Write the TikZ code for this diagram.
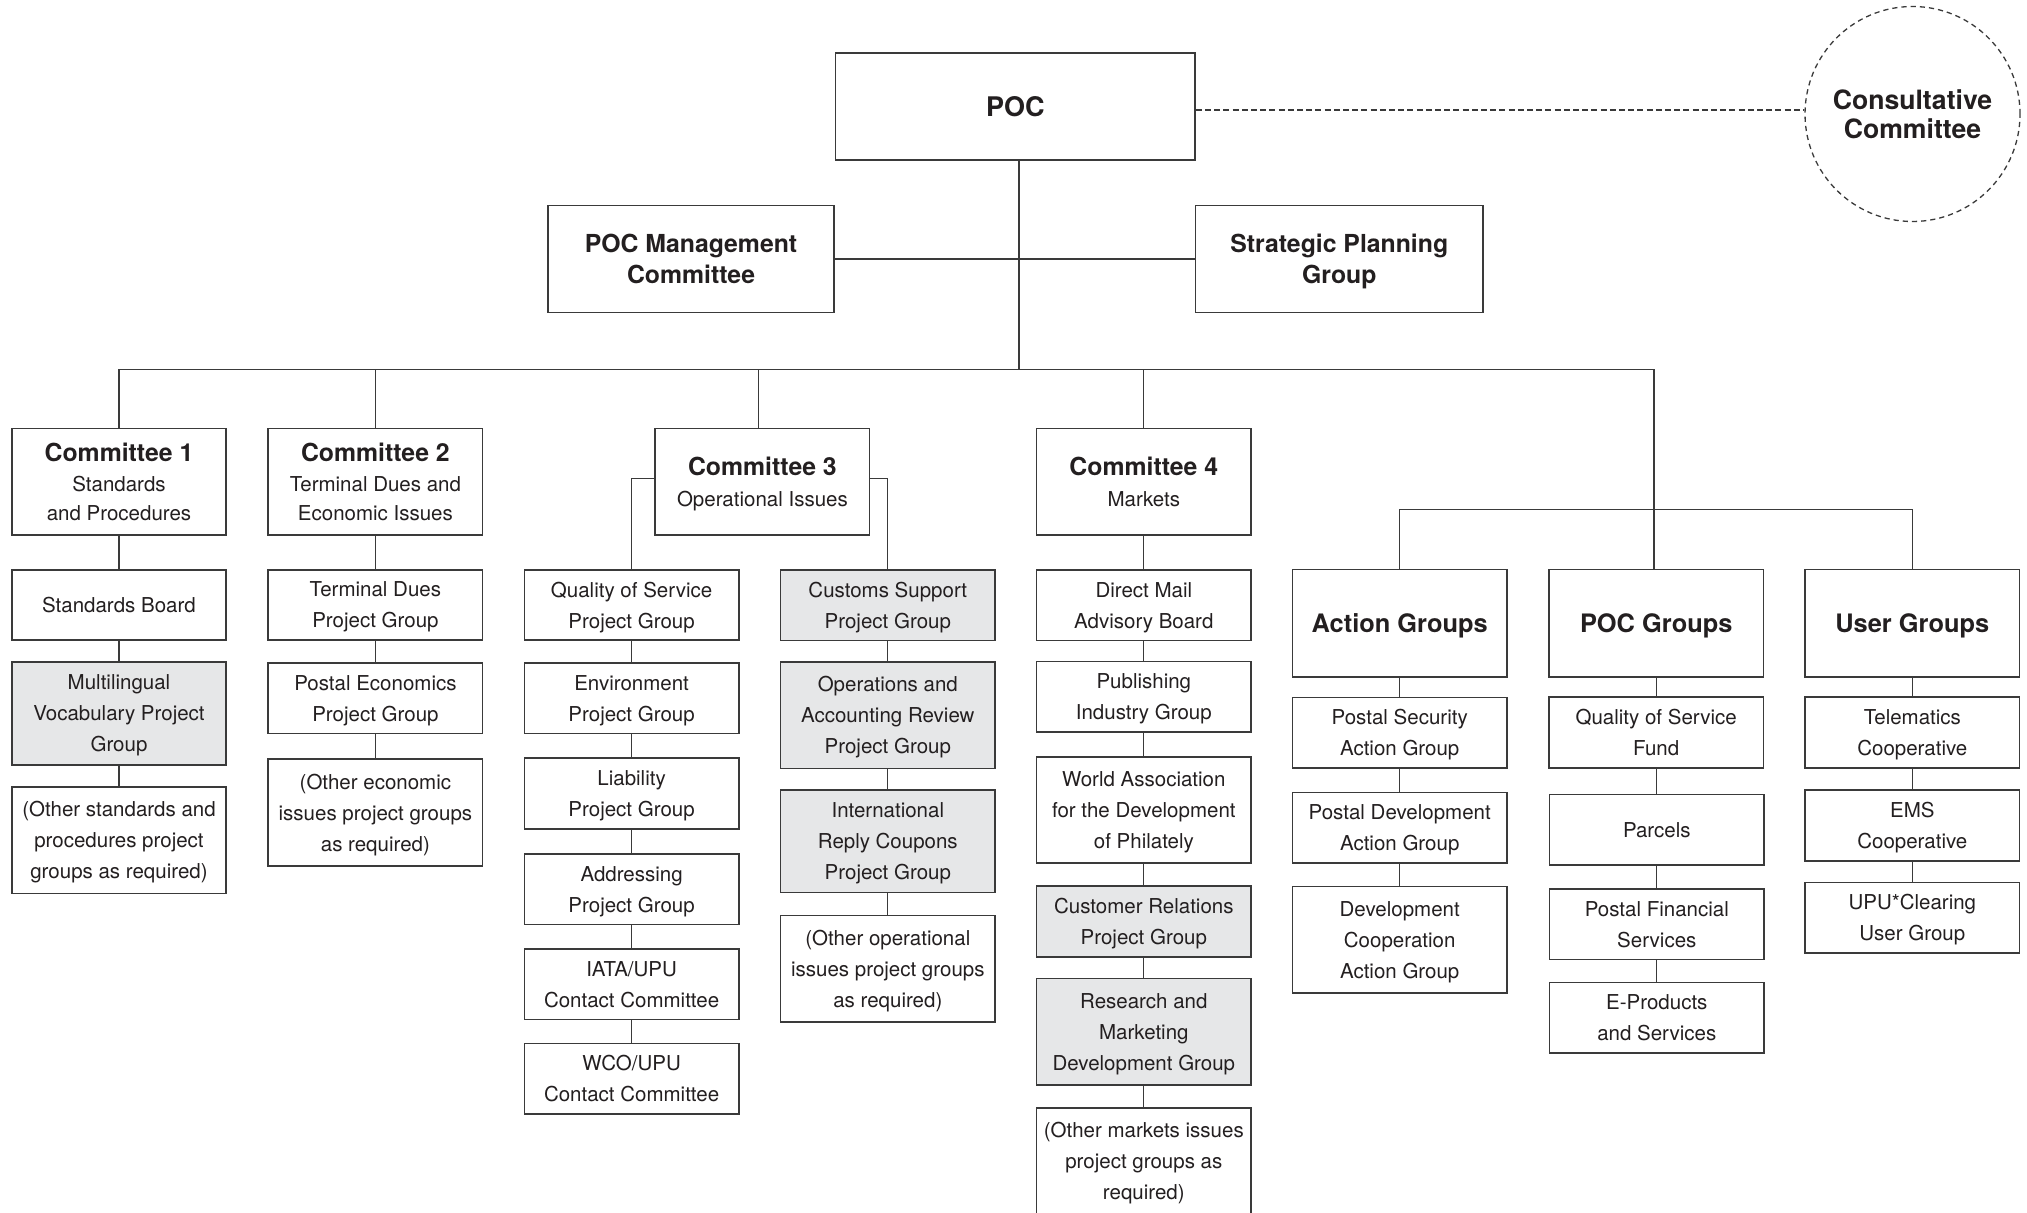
\documentclass[tikz,border=0pt]{standalone}
\usepackage{fontspec}
\setmainfont{TeX Gyre Heros}
\definecolor{inkc}{HTML}{231F20}
\definecolor{linec}{HTML}{3A3A3A}
\definecolor{shade}{HTML}{E6E7E8}
\newcommand\bodyfnt{\fontsize{10.25}{15.5}\selectfont}
\newcommand\headfnt{\fontsize{12.4}{15.5}\selectfont\bfseries}
\newcommand\grpfnt{\fontsize{12.7}{15.5}\selectfont\bfseries}
\tikzset{
  box/.style={draw=linec, line width=0.8pt, fill=white, align=center, inner sep=0pt,
    text=inkc, font=\bodyfnt, minimum width=107.25pt, text depth=0pt},
  shaded/.style={box, fill=shade},
  hA/.style={minimum height=35.25pt},
  hB/.style={minimum height=51.4pt},
  hC/.style={minimum height=53.25pt},
  conn/.style={draw=linec, line width=0.65pt},
  dotted line/.style={draw=linec, line width=0.65pt, dash pattern=on 3pt off 1.6pt},
}
\begin{document}
\begin{tikzpicture}[x=0.5pt, y=-0.5pt]
\useasboundingbox (0,0) rectangle (2027,1213);
\clip (0,0) rectangle (2027,1213);

% ---- top level ----
\node[box, minimum width=179.75pt, minimum height=53.4pt, font=\fontsize{13.5}{16}\selectfont\bfseries] (poc) at (1015.3,106.6) {POC};
\node[box, minimum width=143.25pt, minimum height=53.6pt, font=\headfnt] (mgmt) at (691,259) {POC Management\\Committee};
\node[box, minimum width=143.75pt, minimum height=53.6pt, font=\headfnt] (spg) at (1339.3,259) {Strategic Planning\\Group};
\node[circle, draw=linec, line width=0.65pt, dash pattern=on 2.6pt off 2pt, minimum size=107.5pt, inner sep=0pt,
      align=center, text=inkc, text depth=0pt, font=\fontsize{13.3}{14.7}\selectfont\bfseries] (cons) at (1912.5,114) {Consultative\\Committee};

% ---- committees ----
\node[box, minimum height=53.2pt] (c1) at (119,481.8)
  {{\headfnt Committee 1}\\[-0.6pt]Standards\\[-1.2pt]and Procedures};
\node[box, minimum height=53.2pt] (c2) at (375.4,481.8)
  {{\headfnt Committee 2}\\[-0.6pt]Terminal Dues and\\[-1.2pt]Economic Issues};
\node[box, minimum height=53.2pt] (c3) at (762.4,481.8)
  {{\headfnt Committee 3}\\[-0.3pt]Operational Issues};
\node[box, minimum height=53.2pt] (c4) at (1143.8,481.8)
  {{\headfnt Committee 4}\\[-0.3pt]Markets};

% ---- group headers ----
\node[box, minimum height=53.65pt, font=\grpfnt] (ag) at (1399.7,623.2) {Action Groups};
\node[box, minimum height=53.65pt, font=\grpfnt] (pg) at (1656.2,623.2) {POC Groups};
\node[box, minimum height=53.65pt, font=\grpfnt] (ug) at (1912.3,623.2) {User Groups};

% ---- Committee 1 column ----
\node[box, hA] (sb) at (119,605) {Standards Board};
\node[shaded, hB] (mvp) at (119,713.4) {Multilingual\\Vocabulary Project\\Group};
\node[box, hC] (osp) at (119,840.3) {(Other standards and\\procedures project\\groups as required)};

% ---- Committee 2 column ----
\node[box, hA] (tdpg) at (375.4,605) {Terminal Dues\\Project Group};
\node[box, hA] (pepg) at (375.4,698.3) {Postal Economics\\Project Group};
\node[box, hC] (oeipg) at (375.4,812.5) {(Other economic\\issues project groups\\as required)};

% ---- Committee 3, left column ----
\node[box, hA] (qos) at (631.6,605) {Quality of Service\\Project Group};
\node[box, hA] (env) at (631.6,698.3) {Environment\\Project Group};
\node[box, hA] (liab) at (631.6,793.5) {Liability\\Project Group};
\node[box, hA] (addr) at (631.6,889.1) {Addressing\\Project Group};
\node[box, hA] (iata) at (631.6,984.4) {IATA/UPU\\Contact Committee};
\node[box, hA] (wco) at (631.6,1078.7) {WCO/UPU\\Contact Committee};

% ---- Committee 3, right column ----
\node[shaded, hA] (cust) at (887.8,605.2) {Customs Support\\Project Group};
\node[shaded, hC] (oar) at (887.8,715.1) {Operations and\\Accounting Review\\Project Group};
\node[shaded, hB] (irc) at (887.8,841.1) {International\\Reply Coupons\\Project Group};
\node[box, hC] (ooi) at (887.8,968.8) {(Other operational\\issues project groups\\as required)};

% ---- Committee 4 column ----
\node[box, hA] (dm) at (1143.8,605.2) {Direct Mail\\Advisory Board};
\node[box, hA] (pub) at (1143.8,696.7) {Publishing\\Industry Group};
\node[box, hC] (wadp) at (1143.8,810) {World Association\\for the Development\\of Philately};
\node[shaded, hA] (crpg) at (1143.8,921.5) {Customer Relations\\Project Group};
\node[shaded, hC] (rmdg) at (1143.8,1031.6) {Research and\\Marketing\\Development Group};
\node[box, hC] (omi) at (1143.8,1161) {(Other markets issues\\project groups as\\required)};

% ---- Action Groups column ----
\node[box, hA] (psag) at (1399.7,732.6) {Postal Security\\Action Group};
\node[box, hA] (pdag) at (1399.7,827.6) {Postal Development\\Action Group};
\node[box, hC] (dcag) at (1399.7,939.6) {Development\\Cooperation\\Action Group};

% ---- POC Groups column ----
\node[box, hA] (qsf) at (1656.2,732.5) {Quality of Service\\Fund};
\node[box, hA] (parc) at (1656.8,829.7) {Parcels};
\node[box, hA] (pfs) at (1656.8,924.4) {Postal Financial\\Services};
\node[box, hA] (eps) at (1656.8,1017.9) {E-Products\\and Services};

% ---- User Groups column ----
\node[box, hA] (tel) at (1912.3,732.5) {Telematics\\Cooperative};
\node[box, hA] (ems) at (1912.3,825.5) {EMS\\Cooperative};
\node[box, hA] (upuc) at (1912.3,917.7) {UPU*Clearing\\User Group};

% ---- connectors ----
\coordinate (trunk) at (1019,369.3);
\coordinate (grp) at (1654,369.3);
\coordinate (gbus) at (1654,509.8);
\coordinate (c3drop) at (758.5,369.3);
\coordinate (c3bar) at (0,478.4);
\coordinate (advisory) at (0,110);

\draw[dotted line] (poc.east |- advisory) -- (cons.west |- advisory);
\draw[conn] (poc.south -| trunk) -- (trunk);
\draw[conn] (mgmt) -- (spg);
\draw[conn] (c1.north) |- (grp);
\draw[conn] (c2.north) -- (c2.north |- trunk);
\draw[conn] (c3drop) -- (c3drop |- c3.north);
\draw[conn] (c4.north) -- (c4.north |- trunk);
\draw[conn] (grp) -- (grp |- pg.north);
\draw[conn] (ag.north) |- (gbus) -| (ug.north);

\draw[conn] (c3.west |- c3bar) -| (qos.north);
\draw[conn] (c3.east |- c3bar) -| (cust.north);

\draw[conn] (c1) -- (sb);  \draw[conn] (sb) -- (mvp);  \draw[conn] (mvp) -- (osp);
\draw[conn] (c2) -- (tdpg); \draw[conn] (tdpg) -- (pepg); \draw[conn] (pepg) -- (oeipg);
\draw[conn] (qos) -- (env); \draw[conn] (env) -- (liab); \draw[conn] (liab) -- (addr);
\draw[conn] (addr) -- (iata); \draw[conn] (iata) -- (wco);
\draw[conn] (cust) -- (oar); \draw[conn] (oar) -- (irc); \draw[conn] (irc) -- (ooi);
\draw[conn] (c4) -- (dm); \draw[conn] (dm) -- (pub); \draw[conn] (pub) -- (wadp);
\draw[conn] (wadp) -- (crpg); \draw[conn] (crpg) -- (rmdg); \draw[conn] (rmdg) -- (omi);
\draw[conn] (ag) -- (psag); \draw[conn] (psag) -- (pdag); \draw[conn] (pdag) -- (dcag);
\draw[conn] (pg.south) -- (qsf.north); \draw[conn] (qsf.south) -- (qsf.south |- parc.north);
\draw[conn] (parc) -- (pfs); \draw[conn] (pfs) -- (eps);
\draw[conn] (ug) -- (tel); \draw[conn] (tel) -- (ems); \draw[conn] (ems) -- (upuc);
\end{tikzpicture}
\end{document}
